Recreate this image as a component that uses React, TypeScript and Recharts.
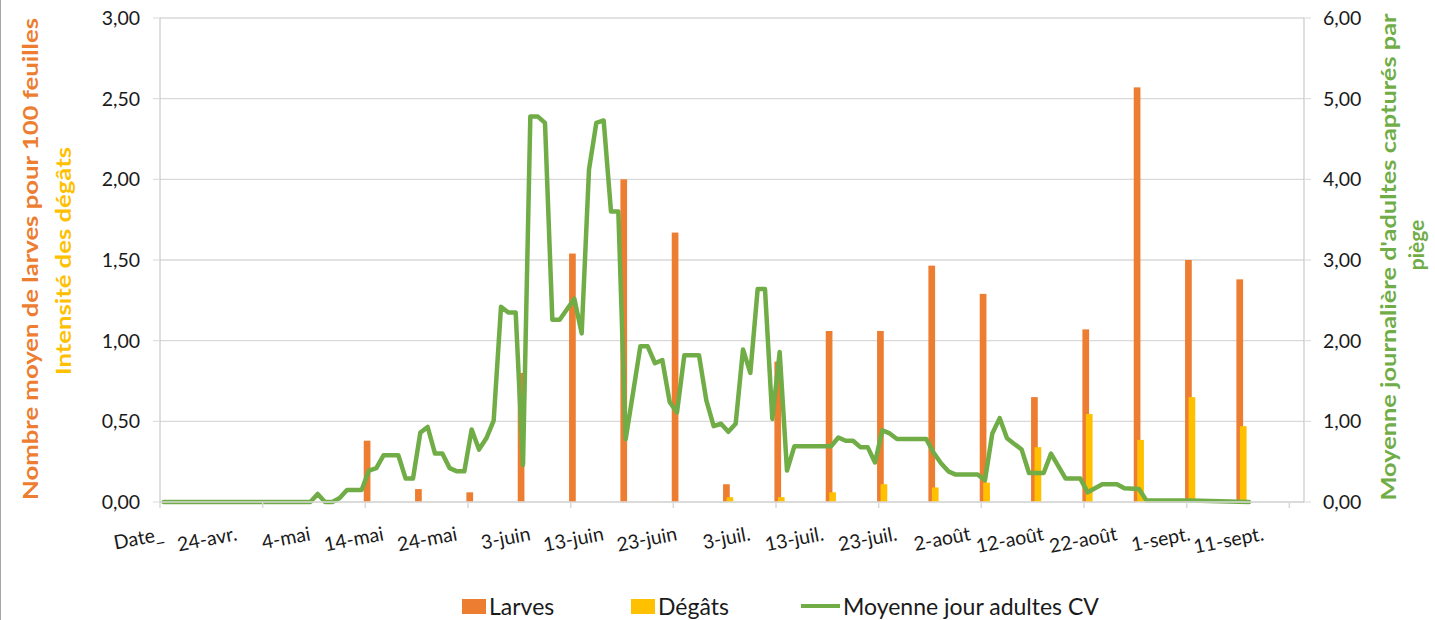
import React from "react";
import { ComposedChart, Bar, Line, XAxis, YAxis, CartesianGrid } from "recharts";

// ---------- data ----------
const tickLabels = [
  "Date_", "24-avr.", "4-mai", "14-mai", "24-mai", "3-juin", "13-juin", "23-juin",
  "3-juil.", "13-juil.", "23-juil.", "2-août", "12-août", "22-août", "1-sept.", "11-sept.",
];
const categoryCount = 156; // "Date_" + daily categories from 15-avr. to 16-sept.
const labelEvery = 10;
const tickMarkEvery = 14;

const sampleDays = [28, 35, 42, 49, 56, 63, 70, 77, 84, 91, 98, 105, 112, 119, 126, 133, 140, 147];
const larves = [0.38, 0.08, 0.06, 0.8, 1.54, 2.0, 1.67, 0.11, 0.87, 1.06, 1.06, 1.465, 1.29, 0.65, 1.07, 2.57, 1.5, 1.38];
const degats = [null, null, null, null, null, null, null, 0.03, 0.03, 0.06, 0.11, 0.09, 0.12, 0.34, 0.545, 0.385, 0.65, 0.47];

const adultDays = [
  0, 20, 21, 22, 23, 24, 25, 27, 28, 29, 30, 32, 33, 34, 35, 36, 37, 38, 39, 40,
  41, 42, 43, 44, 45, 46, 47, 48, 49, 50, 51, 52, 53, 54, 56, 57, 58, 59, 60, 61,
  62, 63, 64, 65, 66, 67, 68, 69, 70, 71, 73, 74, 75, 76, 77, 78, 79, 80, 81, 82,
  83, 84, 85, 86, 91, 92, 93, 94, 95, 96, 97, 98, 99, 100, 104, 105, 106, 107, 108, 111,
  112, 113, 114, 115, 116, 117, 118, 120, 121, 123, 125, 126, 128, 130, 131, 133, 134, 140, 148,
];
const adultValues = [
  0, 0, 0.1, 0, 0, 0.05, 0.15, 0.15, 0.39, 0.42, 0.58, 0.58, 0.29, 0.29, 0.86, 0.93, 0.6, 0.6, 0.42, 0.38,
  0.38, 0.9, 0.65, 0.79, 1.01, 2.42, 2.35, 2.35, 0.46, 4.78, 4.78, 4.7, 2.26, 2.26, 2.52, 2.09, 4.12, 4.7, 4.73, 3.6,
  3.6, 0.78, 1.35, 1.93, 1.93, 1.72, 1.76, 1.24, 1.11, 1.82, 1.82, 1.26, 0.94, 0.97, 0.87, 0.97, 1.89, 1.6, 2.64, 2.64,
  1.03, 1.86, 0.39, 0.69, 0.69, 0.8, 0.76, 0.76, 0.68, 0.68, 0.49, 0.89, 0.85, 0.78, 0.78, 0.61, 0.48, 0.38, 0.34, 0.34,
  0.27, 0.85, 1.04, 0.79, 0.72, 0.65, 0.36, 0.36, 0.6, 0.29, 0.29, 0.12, 0.22, 0.22, 0.17, 0.16, 0.02, 0.02, 0,
];

const leftTicks = [0, 0.5, 1, 1.5, 2, 2.5, 3];
const rightTicks = [0, 1, 2, 3, 4, 5, 6];

const data = Array.from({ length: categoryCount }, (_, day) => {
  const s = sampleDays.indexOf(day);
  const a = adultDays.indexOf(day);
  return {
    day,
    larves: s >= 0 ? larves[s] : null,
    degats: s >= 0 ? degats[s] : null,
    adultes: a >= 0 ? adultValues[a] : null,
  };
});

const xTicks = data.map((d) => d.day).filter((d) => d % labelEvery === 0 || d % tickMarkEvery === 0);

// ---------- layout / style ----------
const W = 1435;
const H = 620;
const PLOT_LEFT = 160;
const PLOT_RIGHT = 1304;
const BAND = (PLOT_RIGHT - PLOT_LEFT) / categoryCount;
const FONT = "Lato, 'Noto Sans', sans-serif";
const TEXT = "#1a1a1a";
const ORANGE = "#ED7D31";
const YELLOW = "#FFC000";
const GREEN = "#70AD47";
const GRID = "#D9D9D9";

const fmt = (v: number) => v.toFixed(2).replace(".", ",");

const XTick = (props: any) => {
  const { x, y, payload } = props;
  const day = payload.value as number;
  const lx = x + 1;
  const ly = y + 38;
  return (
    <g>
      {day % tickMarkEvery === 0 && (
        <line x1={x - BAND / 2} x2={x - BAND / 2} y1={y} y2={y + 6} stroke={GRID} strokeWidth={1.5} />
      )}
      {day % labelEvery === 0 && (
        <text
          x={lx}
          y={ly}
          textAnchor="end"
          transform={`rotate(-11 ${lx} ${ly})`}
          fontSize={19.5}
          fontFamily={FONT}
          fill={TEXT}
        >
          {tickLabels[day / labelEvery]}
        </text>
      )}
    </g>
  );
};

const widen = 1.6;
const BarShape = (props: any) => {
  const { x, y, width, height, fill } = props;
  if (!height || height <= 0) return <g />;
  return <rect x={x - widen} y={y} width={width + 2 * widen} height={height} fill={fill} />;
};

const legendText: React.CSSProperties = { position: "absolute", top: 0, lineHeight: "28px" };

export default function App() {
  return (
    <div style={{ position: "absolute", left: 0, top: 0, width: W, height: H, background: "#fff", fontFamily: FONT }}>
      <ComposedChart
        width={W}
        height={H}
        data={data}
        margin={{ top: 18, right: 61, bottom: 58, left: 100 }}
        barGap={0}
        barSize={3.5}
      >
        <CartesianGrid yAxisId="left" vertical={false} stroke={GRID} strokeWidth={1.4} />
        <XAxis
          dataKey="day"
          type="category"
          ticks={xTicks}
          interval={0}
          height={60}
          tickSize={0}
          tickMargin={0}
          tickLine={false}
          axisLine={{ stroke: GRID, strokeWidth: 1.4 }}
          tick={<XTick />}
        />
        <YAxis
          yAxisId="left"
          orientation="left"
          domain={[0, 3]}
          ticks={leftTicks}
          interval={0}
          width={60}
          tickFormatter={fmt}
          tickSize={7}
          tickMargin={13}
          axisLine={{ stroke: "#BFBFBF" }}
          tickLine={{ stroke: GRID }}
          tick={{ fontSize: 19.5, fill: TEXT, fontFamily: FONT }}
        />
        <YAxis
          yAxisId="right"
          orientation="right"
          domain={[0, 6]}
          ticks={rightTicks}
          interval={0}
          width={70}
          tickFormatter={fmt}
          tickSize={7}
          tickMargin={12}
          axisLine={{ stroke: "#BFBFBF" }}
          tickLine={{ stroke: GRID }}
          tick={{ fontSize: 19.5, fill: TEXT, fontFamily: FONT }}
        />
        <Bar yAxisId="left" dataKey="larves" name="Larves" fill={ORANGE} shape={<BarShape />} isAnimationActive={false} />
        <Bar yAxisId="left" dataKey="degats" name="Dégâts" fill={YELLOW} shape={<BarShape />} isAnimationActive={false} />
        <Line
          yAxisId="right"
          dataKey="adultes"
          name="Moyenne jour adultes CV"
          type="linear"
          stroke={GREEN}
          strokeWidth={4.5}
          strokeLinejoin="round"
          strokeLinecap="round"
          dot={false}
          activeDot={false}
          connectNulls
          isAnimationActive={false}
        />
      </ComposedChart>

      {/* axis titles and frame */}
      <svg width={W} height={H} style={{ position: "absolute", left: 0, top: 0, pointerEvents: "none" }}>
        <line x1={0.5} y1={0} x2={0.5} y2={H} stroke="#A6A6A6" strokeWidth={1} />
        <text
          x={38}
          y={259}
          textAnchor="middle"
          transform="rotate(-90 38 259)"
          fontSize={21}
          fontWeight={700}
          fill={ORANGE}
          fontFamily={FONT}
          textLength={482}
          lengthAdjust="spacingAndGlyphs"
        >
          Nombre moyen de larves pour 100 feuilles
        </text>
        <text
          x={71}
          y={261}
          textAnchor="middle"
          transform="rotate(-90 71 261)"
          fontSize={21}
          fontWeight={700}
          fill={YELLOW}
          fontFamily={FONT}
          textLength={228}
          lengthAdjust="spacingAndGlyphs"
        >
          Intensité des dégâts
        </text>
        <text
          x={1396}
          y={257}
          textAnchor="middle"
          transform="rotate(-90 1396 257)"
          fontSize={21}
          fontWeight={700}
          fill={GREEN}
          fontFamily={FONT}
          textLength={487}
          lengthAdjust="spacingAndGlyphs"
        >
          Moyenne journalière d'adultes capturés par
        </text>
        <text
          x={1424}
          y={245}
          textAnchor="middle"
          transform="rotate(-90 1424 245)"
          fontSize={21}
          fontWeight={700}
          fill={GREEN}
          fontFamily={FONT}
        >
          piège
        </text>
      </svg>

      {/* legend */}
      <div
        style={{
          position: "absolute",
          left: 0,
          top: 592,
          width: W,
          height: 28,
          fontSize: 23,
          color: TEXT,
          fontFamily: FONT,
          whiteSpace: "nowrap",
        }}
      >
        <span style={{ position: "absolute", left: 462, top: 7, width: 24, height: 15, background: ORANGE }} />
        <span style={{ ...legendText, left: 489 }}>Larves</span>
        <span style={{ position: "absolute", left: 631, top: 7, width: 24, height: 15, background: YELLOW }} />
        <span style={{ ...legendText, left: 658 }}>Dégâts</span>
        <span style={{ position: "absolute", left: 801, top: 12, width: 39, height: 4, background: GREEN }} />
        <span style={{ ...legendText, left: 843 }}>Moyenne jour adultes CV</span>
      </div>
    </div>
  );
}
